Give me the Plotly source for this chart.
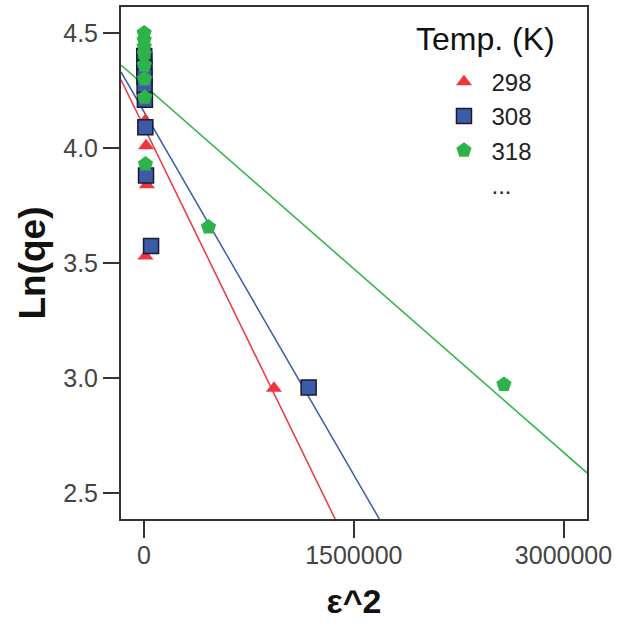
import plotly.graph_objects as go

# ---- data ----
temps = ["298", "308", "318"]

x_298 = [1500, 2500, 4000, 6000, 9000, 14000, 20000, 10000, 929000]
y_298 = [4.36, 4.32, 4.27, 4.20, 4.12, 4.01, 3.84, 3.53, 2.955]

x_308 = [1000, 1500, 2000, 3000, 4000, 6000, 9000, 14000, 50000, 1177000]
y_308 = [4.40, 4.38, 4.35, 4.31, 4.27, 4.21, 4.09, 3.88, 3.574, 2.959]

x_318 = [500, 800, 1000, 1500, 2000, 3000, 5000, 10000, 461000, 2574000]
y_318 = [4.50, 4.47, 4.44, 4.41, 4.36, 4.30, 4.22, 3.93, 3.656, 2.972]

# fitted line coefficients
fit_intercepts = [4.091, 4.157, 4.273]
fit_slopes = [-1.247e-6, -1.052e-6, -5.32e-7]

x_ticks = [0, 1500000, 3000000]
x_tick_labels = ["0", "1500000", "3000000"]
y_ticks = [2.5, 3.0, 3.5, 4.0, 4.5]
y_tick_labels = ["2.5", "3.0", "3.5", "4.0", "4.5"]

x_range = [-165000, 3168000]
y_range = [2.387, 4.613]

legend_title = "Temp. (K)"

colors = ["#ef3540", "#3c5aa8", "#2eb34a"]
symbols = ["triangle-up", "square", "pentagon"]
sizes = [14, 15, 16]
xs = [x_298, x_308, x_318]
ys = [y_298, y_308, y_318]

FONT = "Liberation Sans, Arial, sans-serif"

fig = go.Figure()

# fit lines
for i in range(3):
    lx = list(x_range)
    ly = [fit_intercepts[i] + fit_slopes[i] * v for v in lx]
    fig.add_trace(go.Scatter(x=lx, y=ly, mode="lines",
                             line=dict(color=colors[i], width=1.5),
                             showlegend=False, hoverinfo="skip"))

# points
for i in range(3):
    fig.add_trace(go.Scatter(
        x=xs[i], y=ys[i], mode="markers", name=temps[i],
        marker=dict(symbol=symbols[i], size=sizes[i], color=colors[i],
                    line=dict(color="#1b1b2b" if i == 1 else colors[i],
                              width=1.5 if i == 1 else 0)),
    ))

# "..." legend entry
fig.add_trace(go.Scatter(x=[None], y=[None], mode="markers", name="...",
                         marker=dict(size=1, color="rgba(0,0,0,0)")))

fig.update_layout(
    width=617, height=630,
    margin=dict(l=121, r=25, t=5, b=111),
    paper_bgcolor="white", plot_bgcolor="white",
    font=dict(family=FONT, color="#222"),
    legend=dict(
        x=0.677, y=0.897, xanchor="left", yanchor="top",
        bgcolor="rgba(0,0,0,0)",
        font=dict(size=24, color="#222", family=FONT),
        itemsizing="trace", itemwidth=45,
        tracegroupgap=0,
    ),
    showlegend=True,
    annotations=[dict(
        text=legend_title, xref="paper", yref="paper",
        x=0.783, y=0.937, xanchor="center", yanchor="middle",
        showarrow=False, font=dict(size=32, color="#111", family=FONT),
    )],
)

fig.update_xaxes(
    range=x_range, tickvals=x_ticks, ticktext=x_tick_labels,
    showgrid=False, zeroline=False,
    showline=True, linecolor="#333", linewidth=2, mirror=True,
    ticks="outside", ticklen=17, tickwidth=2, tickcolor="#333",
    ticklabelstandoff=-4,
    tickfont=dict(size=25, color="#444", family=FONT),
    title=dict(text="<b>ε^2</b>", font=dict(size=34, color="#111", family=FONT),
               standoff=21),
)
fig.update_yaxes(
    range=y_range, tickvals=y_ticks, ticktext=y_tick_labels,
    showgrid=False, zeroline=False,
    showline=True, linecolor="#333", linewidth=2, mirror=True,
    ticks="outside", ticklen=16, tickwidth=2, tickcolor="#333",
    tickfont=dict(size=25, color="#444", family=FONT),
    title=dict(text="<b>Ln(qe)</b>", font=dict(size=37, color="#111", family=FONT),
               standoff=6),
)

fig.write_html("out.html")
